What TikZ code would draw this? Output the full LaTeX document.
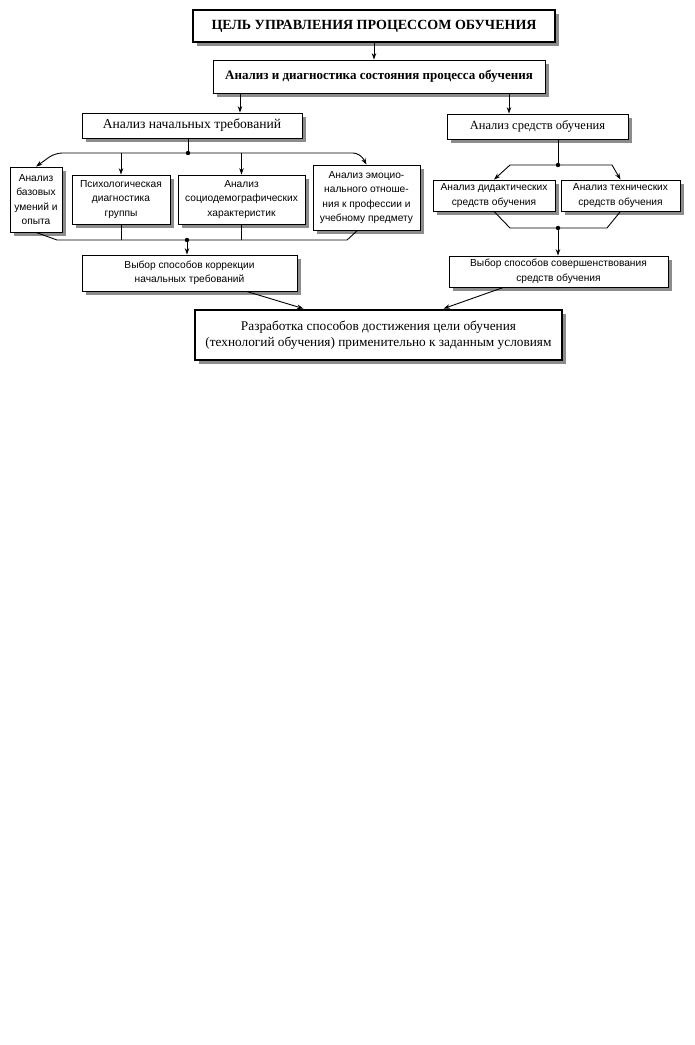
\documentclass[tikz,border=0pt]{standalone}
\usepackage{fontspec}
\setmainfont{Liberation Serif}
\newfontfamily\sansf{Liberation Sans}
\usetikzlibrary{arrows.meta,shadows}

\begin{document}
\begin{tikzpicture}[x=1pt, y=-1pt,
          box/.style={draw, fill=white, align=center, inner sep=1pt, line width=0.8pt,
                      drop shadow={shadow xshift=3.5pt, shadow yshift=-3.5pt, fill=black!45, opacity=1}},
          bigbox/.style={box, line width=2.8pt},
          small/.style={box, font=\sansf\fontsize{10.2}{14.5}\selectfont},
          arr/.style={-{Stealth[length=6.5pt,width=4.5pt]}, line width=0.9pt},
          dbl/.style={{Stealth[length=6.5pt,width=4.5pt]}-{Stealth[length=6.5pt,width=4.5pt]}, line width=0.9pt},
          ln/.style={line width=0.9pt}]
        \useasboundingbox (0,0) rectangle (695,1045);
        % levels 1 and 2
        \node[bigbox, minimum width=362, minimum height=32, font=\bfseries\fontsize{14}{16}\selectfont]
             (goal) at (374,26) {ЦЕЛЬ УПРАВЛЕНИЯ ПРОЦЕССОМ ОБУЧЕНИЯ};
        \node[box, minimum width=332, minimum height=33, font=\bfseries\fontsize{13}{15}\selectfont]
             (diag) at (379,76.5) {Анализ и диагностика состояния процесса обучения};
        \node[box, minimum width=220, minimum height=25, font=\fontsize{13.6}{15}\selectfont]
             (req) at (192,125.5) {Анализ начальных требований};
        \node[box, minimum width=181, minimum height=25, font=\fontsize{12.5}{15}\selectfont]
             (means) at (537.5,126.5) {Анализ средств обучения};
        % analysis boxes
        \node[small, minimum width=52, minimum height=65] (base) at (36,199.5)
             {Анализ\\базовых\\умений и\\опыта};
        \node[small, minimum width=98, minimum height=49] (psych) at (121,199.5)
             {Психологическая\\диагностика\\группы};
        \node[small, minimum width=127, minimum height=49] (socio) at (241.5,199.5)
             {Анализ\\социодемографических\\характеристик};
        \node[small, minimum width=107, minimum height=65] (emo) at (366.5,197.5)
             {Анализ эмоцио-\\нального отноше-\\ния к профессии и\\учебному предмету};
        \node[small, minimum width=122, minimum height=31] (did) at (494,195.5)
             {Анализ дидактических\\средств обучения};
        \node[small, minimum width=119, minimum height=31] (tech) at (620.5,195.5)
             {Анализ технических\\средств обучения};
        % choice boxes
        \node[small, minimum width=215, minimum height=36] (corr) at (189.5,273)
             {Выбор способов коррекции\\начальных требований};
        \node[small, minimum width=219, minimum height=31] (impr) at (558.5,271.5)
             {Выбор способов совершенствования\\средств обучения};
        \node[bigbox, minimum width=367, minimum height=50, font=\fontsize{13.3}{16}\selectfont]
             (final) at (378.5,335)
             {Разработка способов достижения цели обучения\\(технологий обучения) применительно к заданным условиям};
        % junctions
        \coordinate (jr) at (188,153);
        \coordinate (jc) at (187,240);
        \coordinate (jm) at (558,165);
        \coordinate (jt) at (558,228);
        \coordinate (xl) at (240,0);
        \coordinate (xr) at (509,0);
        % connectors
        \draw[arr] (goal.south) -- (goal.south |- diag.north);
        \draw[arr] (diag.south -| xl) -- (req.north -| xl);
        \draw[arr] (diag.south -| xr) -- (means.north -| xr);
        \draw[ln] (req.south -| jr) -- (jr);
        \draw[dbl, rounded corners=7pt] (base.north) -- (55,153) -- (360,153) -- (emo.north);
        \draw[arr] (psych.north |- jr) -- (psych.north);
        \draw[arr] (socio.north |- jr) -- (socio.north);
        \draw[ln] (base.south) -- (57,240) -- (347,240) -- ([xshift=-9pt]emo.south);
        \draw[ln] (psych.south) -- (psych.south |- jc);
        \draw[ln] (socio.south) -- (socio.south |- jc);
        \draw[arr] (jc) -- (corr.north -| jc);
        \draw[ln] (means.south -| jm) -- (jm);
        \draw[dbl] (did.north) -- (510,165) -- (612,165) -- (tech.north);
        \draw[ln] (did.south) -- (510,228) -- (607,228) -- (tech.south);
        \draw[arr] (jt) -- (impr.north -| jt);
        \draw[arr] ([xshift=57pt]corr.south) -- ([xshift=-75pt]final.north);
        \draw[arr] ([xshift=-55pt]impr.south) -- ([xshift=65pt]final.north);
        \foreach \j in {jr,jc,jm,jt} \fill (\j) circle (2.2pt);
\end{tikzpicture}
\end{document}
